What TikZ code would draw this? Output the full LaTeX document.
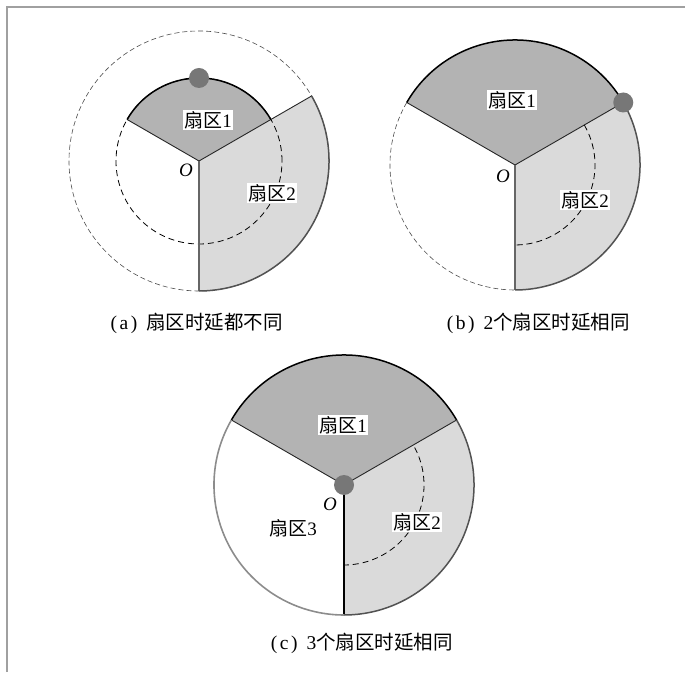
\documentclass[tikz,border=0pt]{standalone}
\usepackage{fontspec}
\setmainfont{Liberation Serif}
\newfontfamily\cjk{Noto Sans CJK SC}
\definecolor{sdark}{HTML}{B3B3B3}
\definecolor{slight}{HTML}{DADADA}
\definecolor{dotc}{HTML}{777777}
\definecolor{framec}{HTML}{A0A0A0}
\newcommand{\pl}[1]{(\kern2.5pt #1\kern2.5pt)\hspace{9pt}}
\begin{document}
\begin{tikzpicture}[x=1pt,y=1pt,
  fsec1/.style={fill=sdark},
  fsec2/.style={fill=slight},
  radline/.style={draw=black!85,line width=0.9pt},
  radgray/.style={draw=black!60,line width=1.1pt},
  radthick/.style={draw=black,line width=1.6pt},
  arcone/.style={draw=black,line width=1.5pt},
  arctwo/.style={draw=black!68,line width=1.5pt},
  arcthree/.style={draw=black!45,line width=1.6pt},
  outdash/.style={draw=black!70,line width=0.6pt,dash pattern=on 5pt off 3pt},
  indash/.style={draw=black,line width=0.8pt,dash pattern=on 6pt off 4pt},
  dotstyle/.style={fill=dotc},
  lab/.style={fill=white,inner sep=1pt,font=\fontsize{19}{22}\selectfont},
  olab/.style={inner sep=0pt,font=\fontsize{19}{22}\selectfont\itshape},
  captext/.style={inner sep=0pt,font=\fontsize{19.5}{22}\selectfont}]
\useasboundingbox (0,0) rectangle (685,672);
% frame
\coordinate (fbl) at (7,0);
\coordinate (ftl) at (7,665);
\coordinate (ftr) at (685,665);
\draw[framec,line width=1.5pt] (fbl) -- (ftl) -- (ftr);

% ---------------- (a)
\coordinate (Oa) at (199,511);
\fill[fsec1] (Oa) -- ++(150:83) arc[start angle=150,end angle=30,radius=83] -- cycle;
\fill[fsec2] (Oa) -- ++(30:130) arc[start angle=30,end angle=-90,radius=130] -- cycle;
\draw[outdash] (Oa) circle (130);
\draw[indash] (Oa) circle (83);
\draw[radline] (Oa) -- ++(150:83);
\draw[radline] (Oa) -- ++(30:130);
\draw[radgray] (Oa) -- ++(-90:130);
\draw[arcone] (Oa) ++(150:83) arc[start angle=150,end angle=30,radius=83];
\draw[arctwo] (Oa) ++(30:130) arc[start angle=30,end angle=-90,radius=130];
\fill[dotstyle] (Oa) ++(90:83) circle (10);
\node[lab] (a1) at (208,552) {{\cjk 扇区}1};
\node[lab] (a2) at (272,479) {{\cjk 扇区}2};
\node[olab] (aO) at (186,502) {O};
\node[captext,anchor=east] (capa) at (283,349) {\pl{a}{\cjk 扇区时延都不同}};

% ---------------- (b)
\coordinate (Ob) at (515,507);
\fill[fsec1] (Ob) -- ++(150:125) arc[start angle=150,end angle=30,radius=125] -- cycle;
\fill[fsec2] (Ob) -- ++(30:125) arc[start angle=30,end angle=-90,radius=125] -- cycle;
\draw[outdash] (Ob) ++(150:125) arc[start angle=150,end angle=270,radius=125];
\draw[indash] (Ob) ++(30:80) arc[start angle=30,end angle=-90,radius=80];
\draw[radline] (Ob) -- ++(150:125);
\draw[radline] (Ob) -- ++(30:125);
\draw[radgray] (Ob) -- ++(-90:125);
\draw[arcone] (Ob) ++(150:125) arc[start angle=150,end angle=30,radius=125];
\draw[arctwo] (Ob) ++(30:125) arc[start angle=30,end angle=-90,radius=125];
\fill[dotstyle] (Ob) ++(30:125) circle (10);
\node[lab] (b1) at (512,572) {{\cjk 扇区}1};
\node[lab] (b2) at (585,472) {{\cjk 扇区}2};
\node[olab] (bO) at (503,496) {O};
\node[captext,anchor=east] (capb) at (630,349) {\pl{b}2{\cjk 个扇区时延相同}};

% ---------------- (c)
\coordinate (Oc) at (344,187);
\fill[fsec1] (Oc) -- ++(150:130) arc[start angle=150,end angle=30,radius=130] -- cycle;
\fill[fsec2] (Oc) -- ++(30:130) arc[start angle=30,end angle=-90,radius=130] -- cycle;
\draw[indash] (Oc) ++(28:80) arc[start angle=28,end angle=-90,radius=80];
\draw[radline] (Oc) -- ++(150:130);
\draw[radline] (Oc) -- ++(30:130);
\draw[radthick] (Oc) -- ++(-90:130);
\draw[arcone] (Oc) ++(150:130) arc[start angle=150,end angle=30,radius=130];
\draw[arctwo] (Oc) ++(30:130) arc[start angle=30,end angle=-90,radius=130];
\draw[arcthree] (Oc) ++(150:130) arc[start angle=150,end angle=270,radius=130];
\fill[dotstyle] (Oc) circle (10);
\node[lab] (c1) at (343,247) {{\cjk 扇区}1};
\node[lab] (c2) at (417,150) {{\cjk 扇区}2};
\node[lab] (c3) at (293,144) {{\cjk 扇区}3};
\node[olab] (cO) at (330,168) {O};
\node[captext,anchor=east] (capc) at (453,29) {\pl{c}3{\cjk 个扇区时延相同}};
\end{tikzpicture}
\end{document}
